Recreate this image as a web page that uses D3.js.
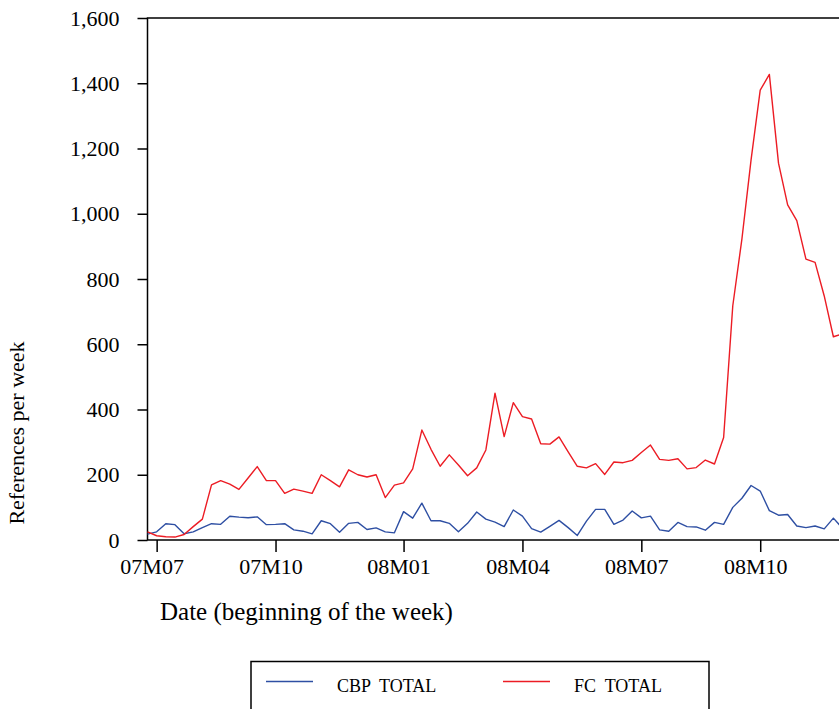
<!DOCTYPE html>
<html>
<head>
<meta charset="utf-8">
<script src="https://cdn.jsdelivr.net/npm/d3@7"></script>
<style>
  html, body { margin: 0; padding: 0; background: #fff; overflow: hidden; }
  text { font-family: "Liberation Serif", "Times New Roman", serif; fill: #000; }
</style>
</head>
<body>
<div id="chart"></div>
<script>
// weekly series, first week begins Monday 2007-06-25
const firstWeek = new Date(Date.UTC(2007, 5, 25));

const cbpTotal = [
  18, 25, 50, 47, 19, 25, 38, 50, 48, 73,
  70, 68, 71, 47, 48, 50, 31, 27, 19, 59,
  50, 24, 51, 54, 32, 37, 25, 22, 87, 67,
  113, 59, 59, 51, 25, 51, 86, 64, 55, 41,
  92, 73, 35, 24, 42, 60, 38, 14, 58, 94,
  94, 48, 61, 89, 68, 73, 31, 27, 54, 41,
  40, 30, 54, 48, 100, 128, 167, 150, 90, 76,
  78, 43, 38, 43, 34, 67, 36
];

const fcTotal = [
  25, 13, 10, 9, 17, 41, 64, 169, 182, 171,
  155, 190, 225, 182, 182, 143, 156, 150, 143, 200,
  182, 163, 215, 200, 193, 200, 130, 168, 175, 218,
  337, 278, 226, 261, 230, 197, 221, 276, 450, 317,
  421, 378, 371, 295, 294, 316, 270, 226, 221, 234,
  201, 239, 237, 244, 268, 291, 247, 244, 249, 218,
  222, 245, 233, 314, 718, 923, 1165, 1379, 1427, 1155,
  1027, 979, 861, 851, 748, 623, 632
];

const tickMonths = ['2007-07', '2007-10', '2008-01', '2008-04', '2008-07', '2008-10'];
const yTicks = [0, 200, 400, 600, 800, 1000, 1200, 1400, 1600];
const seriesNames = ['CBP  TOTAL', 'FC  TOTAL'];
const seriesColors = ['#2e4fa3', '#ec1c24'];

const weeks = cbpTotal.map((d, i) => d3.utcWeek.offset(firstWeek, i));

const width = 839, height = 709;
const plotLeft = 147.5, plotTop = 18, plotBottom = 540;
const weekPx = 9.145;

const svg = d3.select('#chart').append('svg')
  .attr('width', width)
  .attr('height', height);

const x = d3.scaleUtc()
  .domain([weeks[0], weeks[weeks.length - 1]])
  .range([plotLeft, plotLeft + (weeks.length - 1) * weekPx]);

const y = d3.scaleLinear()
  .domain([0, 1600])
  .range([plotBottom, plotTop]);

// frame (right side runs past the window)
svg.append('rect')
  .attr('x', plotLeft)
  .attr('y', plotTop)
  .attr('width', 900)
  .attr('height', plotBottom - plotTop)
  .attr('fill', 'none')
  .attr('stroke', '#000')
  .attr('stroke-width', 1.5);

// ticks sit on the first week that starts in each quarter month
const tickDates = tickMonths.map(m => d3.utcMonday.ceil(d3.utcParse('%Y-%m')(m)));

const xAxis = svg.append('g')
  .attr('transform', `translate(0,${plotBottom})`)
  .call(d3.axisBottom(x)
    .tickValues(tickDates)
    .tickFormat(d3.utcFormat('%yM%m'))
    .tickSize(12)
    .tickPadding(6));
xAxis.select('.domain').remove();
xAxis.selectAll('line').attr('stroke', '#000').attr('stroke-width', 1.5);
xAxis.selectAll('text')
  .attr('font-size', 22)
  .attr('x', -5)
  .attr('dy', '0.71em')
  .attr('font-family', '"Liberation Serif", serif');

const yAxis = svg.append('g')
  .attr('transform', `translate(${plotLeft},0)`)
  .call(d3.axisLeft(y)
    .tickValues(yTicks)
    .tickFormat(d3.format(','))
    .tickSize(10)
    .tickPadding(18));
yAxis.select('.domain').remove();
yAxis.selectAll('line').attr('stroke', '#000').attr('stroke-width', 1.5);
yAxis.selectAll('text')
  .attr('font-size', 22)
  .attr('font-family', '"Liberation Serif", serif');

const line = d3.line()
  .x((d, i) => x(weeks[i]))
  .y(d => y(d));

[cbpTotal, fcTotal].forEach((series, k) => {
  svg.append('path')
    .datum(series)
    .attr('fill', 'none')
    .attr('stroke', seriesColors[k])
    .attr('stroke-width', 1.4)
    .attr('stroke-linejoin', 'round')
    .attr('d', line);
});

// axis titles
svg.append('text')
  .attr('x', 160)
  .attr('y', 620)
  .attr('font-size', 25)
  .text('Date (beginning of the week)');

svg.append('text')
  .attr('transform', 'translate(24,433) rotate(-90)')
  .attr('text-anchor', 'middle')
  .attr('font-size', 22)
  .text('References per week');

// legend
const legend = svg.append('g');
legend.append('rect')
  .attr('x', 251)
  .attr('y', 661.5)
  .attr('width', 458)
  .attr('height', 80)
  .attr('fill', 'none')
  .attr('stroke', '#000')
  .attr('stroke-width', 1.5);

const legendX = [266, 503];
seriesNames.forEach((name, k) => {
  legend.append('line')
    .attr('x1', legendX[k])
    .attr('x2', legendX[k] + 47)
    .attr('y1', 681.5)
    .attr('y2', 681.5)
    .attr('stroke', seriesColors[k])
    .attr('stroke-width', 1.4);
  legend.append('text')
    .attr('x', legendX[k] + 71)
    .attr('y', 691.5)
    .attr('font-size', 18)
    .style('white-space', 'pre')
    .text(name);
});
</script>
</body>
</html>
